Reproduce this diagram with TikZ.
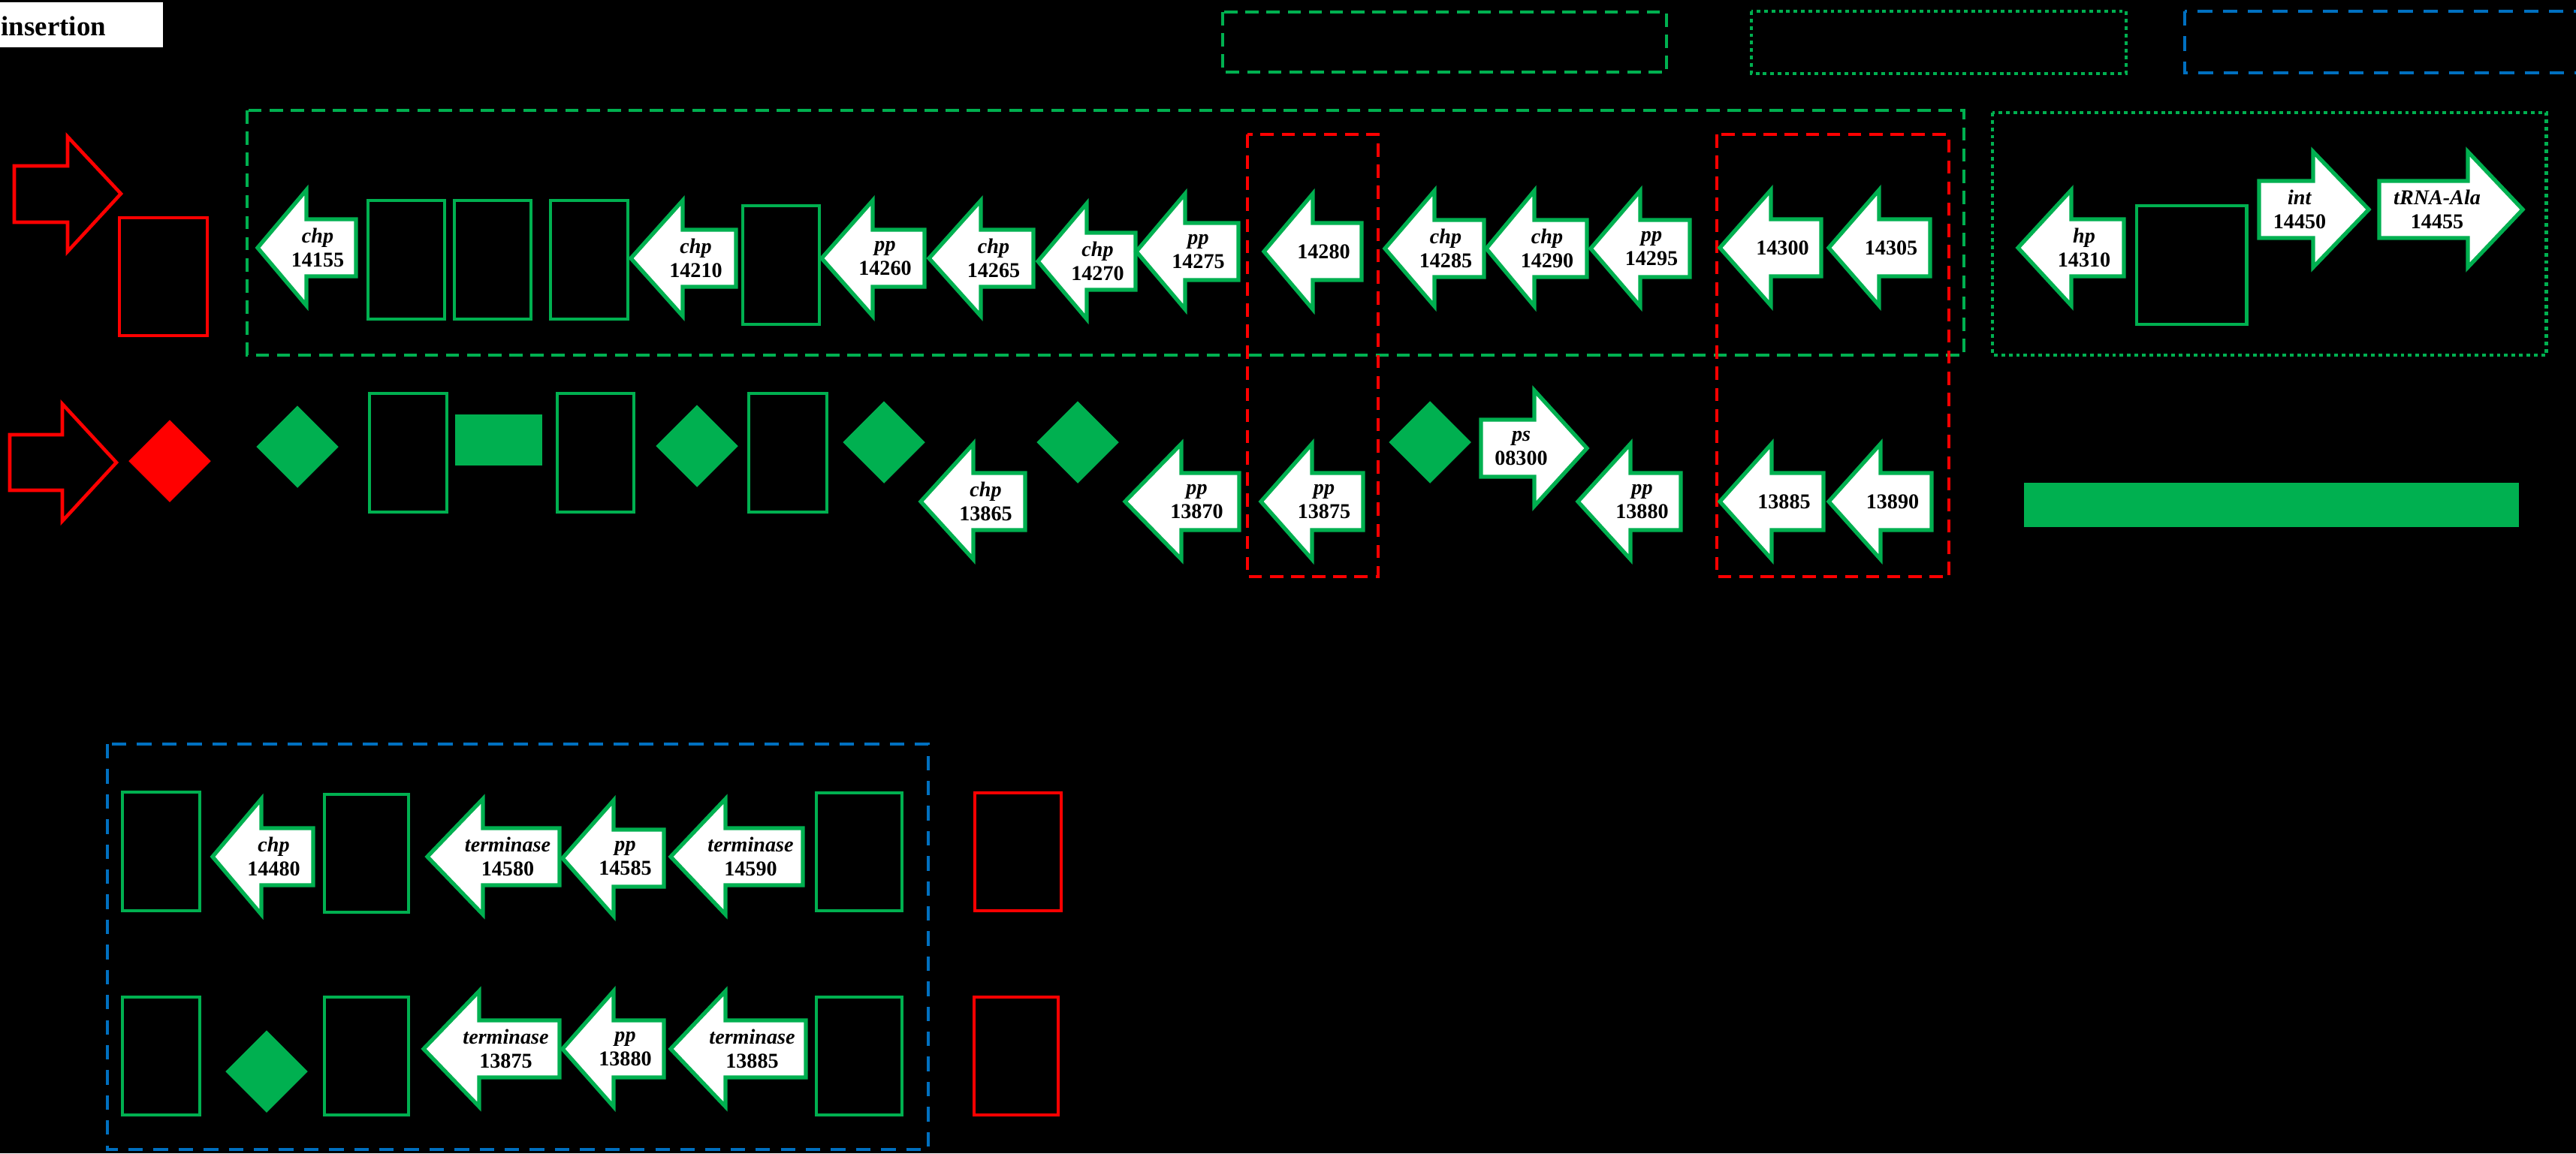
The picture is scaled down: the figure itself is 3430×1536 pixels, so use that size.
\documentclass[tikz,border=0pt]{standalone}
\usepackage{fontspec}
\setmainfont{Liberation Serif}
\usetikzlibrary{shapes.geometric}
\definecolor{geneGreen}{RGB}{0,176,80}
\definecolor{markRed}{RGB}{255,0,0}
\definecolor{regionBlue}{RGB}{0,112,192}

% gene arrow pointing left: name, tip x, head base x, tail x, mid y, label
\newcommand{\geneLeft}[6]{%
  \draw[gene] (#2,#5) -- (#3,#5-77) -- (#3,#5-38) -- (#4,#5-38) -- (#4,#5+38) -- (#3,#5+38) -- (#3,#5+77) -- cycle;
  \node[genetext] (#1) at ({(#3+#4)/2-18},#5) {#6};
}
% gene arrow pointing right: name, tail x, head base x, tip x, mid y, label
\newcommand{\geneRight}[6]{%
  \draw[gene] (#4,#5) -- (#3,#5-77) -- (#3,#5-38) -- (#2,#5-38) -- (#2,#5+38) -- (#3,#5+38) -- (#3,#5+77) -- cycle;
  \node[genetext] (#1) at ({(#2+#3)/2+18},#5) {#6};
}

\begin{document}
\begin{tikzpicture}[
    x=0.01cm, y=-0.01cm,
    gene/.style={draw=geneGreen, fill=white, line width=1.5pt},
    genetext/.style={font=\fontsize{8}{9}\selectfont\bfseries, align=center, inner sep=0pt, text=black},
    orf/.style={draw=geneGreen, line width=1.4pt},
    insbox/.style={draw=markRed, line width=1.3pt},
    orfdiamond/.style={diamond, inner sep=0pt, minimum width=1.1cm, minimum height=1.1cm},
    greenDash/.style={draw=geneGreen, line width=1.3pt, dash pattern=on 5pt off 3pt},
    greenDot/.style={draw=geneGreen, line width=1.4pt, dash pattern=on 1.4pt off 1.4pt},
    redDash/.style={draw=markRed, line width=1.3pt, dash pattern=on 5pt off 3pt},
    blueDash/.style={draw=regionBlue, line width=1.3pt, dash pattern=on 5.5pt off 4pt}
]
    \useasboundingbox (0,0) rectangle (3430,1536);
    \fill[black] (0,0) rectangle (3430,1536);
    \clip (0,0) rectangle (3430,1536);

    % title tag
    \fill[white] (0,3) rectangle (217,63);
    \node[anchor=base west, inner sep=0pt, font=\fontsize{10.5}{12}\selectfont\bfseries] (title) at (1,47) {insertion};

    % legend frames
    \draw[greenDash] (1628,16) rectangle (2219,96);
    \draw[greenDot] (2332,15) rectangle (2831,98);
    \draw[blueDash] (2909,15) rectangle (3480,97);

    % region frames
    \draw[greenDash] (329,147) rectangle (2615,473);
    \draw[greenDot] (2653,150) rectangle (3390,473);
    \draw[redDash] (1661,179) rectangle (1835,768);
    \draw[redDash] (2286,179) rectangle (2595,768);
    \draw[blueDash] (143,991) rectangle (1236,1531);

    % Row 1
    \draw[insbox] (161,258) -- (90,182) -- (90,221) -- (19,221) -- (19,296) -- (90,296) -- (90,335) -- cycle;
    \draw[insbox] (159,290) rectangle (276,447);
    \geneLeft{g14155}{343}{408}{474}{330}{\textit{chp}\\14155}
    \draw[orf] (490,267) rectangle (592,425);
    \draw[orf] (605,267) rectangle (707,425);
    \draw[orf] (733,267) rectangle (836,425);
    \geneLeft{g14210}{840}{909}{980}{344}{\textit{chp}\\14210}
    \draw[orf] (989,274) rectangle (1091,432);
    \geneLeft{g14260}{1094}{1162}{1231}{344}{\textit{pp}\\14260}
    \geneLeft{g14265}{1237}{1306}{1376}{344}{\textit{chp}\\14265}
    \geneLeft{g14270}{1382}{1447}{1512}{348}{\textit{chp}\\14270}
    \geneLeft{g14275}{1513}{1578}{1649}{335}{\textit{pp}\\14275}
    \geneLeft{g14280}{1683}{1748}{1813}{335}{14280}
    \geneLeft{g14285}{1844}{1910}{1976}{331}{\textit{chp}\\14285}
    \geneLeft{g14290}{1979}{2043}{2113}{331}{\textit{chp}\\14290}
    \geneLeft{g14295}{2118}{2184}{2250}{331}{\textit{pp}\\14295}
    \geneLeft{g14300}{2290}{2358}{2425}{330}{14300}
    \geneLeft{g14305}{2435}{2502}{2570}{330}{14305}
    \geneLeft{g14310}{2687}{2758}{2828}{330}{\textit{hp}\\14310}
    \draw[orf] (2845,274) rectangle (2991,432);
    \geneRight{g14450}{3008}{3080}{3154}{279}{\textit{int}\\14450}
    \geneRight{g14455}{3168}{3286}{3359}{279}{\textit{tRNA-Ala}\\14455}

    % Row 2
    \draw[insbox] (155,616) -- (83,538) -- (83,579) -- (13,579) -- (13,653) -- (83,653) -- (83,694) -- cycle;
    \node[orfdiamond, fill=markRed] (dRed) at (226,614) {};
    \node[orfdiamond, fill=geneGreen] (dA) at (396,595) {};
    \draw[orf] (492,524) rectangle (595,682);
    \fill[geneGreen] (606,552) rectangle (722,620);
    \draw[orf] (742,524) rectangle (844,682);
    \node[orfdiamond, fill=geneGreen] (dB) at (928,594) {};
    \draw[orf] (997,524) rectangle (1101,682);
    \node[orfdiamond, fill=geneGreen] (dC) at (1177,589) {};
    \geneLeft{g13865}{1226}{1296}{1365}{668}{\textit{chp}\\13865}
    \node[orfdiamond, fill=geneGreen] (dD) at (1435,589) {};
    \geneLeft{g13870}{1498}{1573}{1650}{668}{\textit{pp}\\13870}
    \geneLeft{g13875}{1679}{1747}{1815}{668}{\textit{pp}\\13875}
    \node[orfdiamond, fill=geneGreen] (dE) at (1904,589) {};
    \geneRight{g08300}{1972}{2043}{2113}{597}{\textit{ps}\\08300}
    \geneLeft{g13880}{2101}{2171}{2238}{668}{\textit{pp}\\13880}
    \geneLeft{g13885}{2290}{2359}{2428}{668}{13885}
    \geneLeft{g13890}{2435}{2504}{2572}{668}{13890}
    \fill[geneGreen] (2695,643) rectangle (3354,702);

    % Lower panel, row A
    \draw[orf] (163,1055) rectangle (266,1213);
    \geneLeft{g14480}{283}{348}{417}{1141}{\textit{chp}\\14480}
    \draw[orf] (432,1058) rectangle (544,1215);
    \geneLeft{g14580}{569}{643}{745}{1141}{\textit{terminase}\\14580}
    \geneLeft{g14585}{749}{817}{884}{1143}{\textit{pp}\\14585}
    \geneLeft{g14590}{893}{966}{1069}{1141}{\textit{terminase}\\14590}
    \draw[orf] (1087,1056) rectangle (1201,1213);
    \draw[insbox] (1298,1056) rectangle (1413,1213);

    % Lower panel, row B
    \draw[orf] (163,1328) rectangle (266,1485);
    \node[orfdiamond, fill=geneGreen] (dF) at (355,1427) {};
    \draw[orf] (432,1328) rectangle (544,1485);
    \geneLeft{g13875b}{564}{638}{745}{1397}{\textit{terminase}\\13875}
    \geneLeft{g13880b}{749}{817}{884}{1397}{\textit{pp}\\13880}
    \geneLeft{g13885b}{893}{966}{1073}{1397}{\textit{terminase}\\13885}
    \draw[orf] (1087,1328) rectangle (1201,1485);
    \draw[insbox] (1297,1328) rectangle (1409,1485);
\end{tikzpicture}
\end{document}
